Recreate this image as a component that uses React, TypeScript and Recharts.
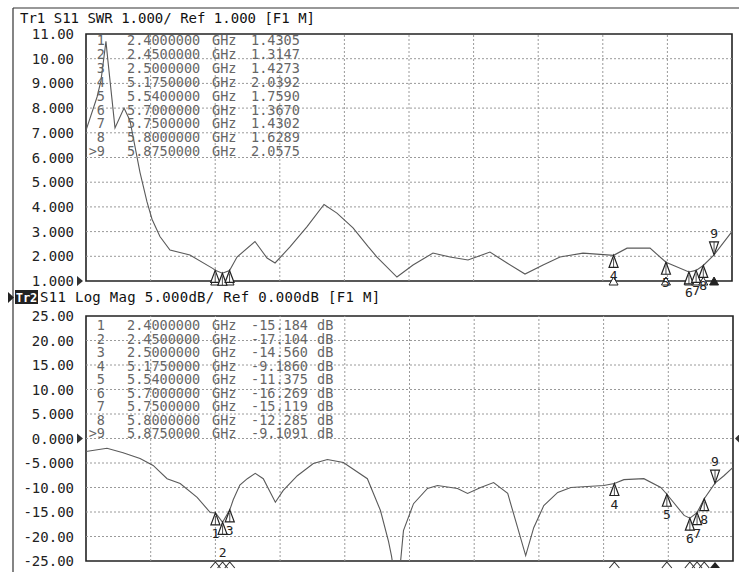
import React from "react";
import {
  ComposedChart,
  Line,
  Scatter,
  XAxis,
  YAxis,
  ReferenceArea,
  ReferenceDot,
  ReferenceLine,
} from "recharts";

const MONO = "'DejaVu Sans Mono', 'Liberation Mono', monospace";

// stimulus axis: 1.5 GHz .. 6 GHz, 10 divisions (labels are not shown on screen)
const freqTicks = [1.5, 1.95, 2.4, 2.85, 3.3, 3.75, 4.2, 4.65, 5.1, 5.55, 6.0];

// Tr1 S11 SWR
const swrTicks = [1, 2, 3, 4, 5, 6, 7, 8, 9, 10, 11];
const swrTickLabels = ["1.000", "2.000", "3.000", "4.000", "5.000", "6.000", "7.000", "8.000", "9.000", "10.00", "11.00"];
const swrFreq = [1.5, 1.577, 1.604, 1.639, 1.653, 1.702, 1.765, 1.806, 1.876, 1.925, 1.96, 2.015, 2.085, 2.224, 2.385, 2.552, 2.677, 2.761, 2.817, 2.921, 3.04, 3.158, 3.248, 3.36, 3.464, 3.527, 3.666, 3.778, 3.917, 4.036, 4.161, 4.314, 4.433, 4.558, 4.684, 4.802, 4.962, 5.269, 5.429, 5.986, 6.0];
const swrVals = [7.1, 8.45, 9.1, 10.7, 9.9, 7.2, 8.0, 7.5, 5.4, 4.2, 3.5, 2.8, 2.25, 2.05, 1.5, 1.97, 2.6, 1.93, 1.73, 2.38, 3.2, 4.1, 3.75, 3.15, 2.4, 1.97, 1.16, 1.65, 2.13, 1.97, 1.85, 2.17, 1.73, 1.28, 1.65, 1.97, 2.13, 2.33, 2.33, 2.9, 3.0];

// Tr2 S11 Log Mag (dB)
const lmTicks = [-25, -20, -15, -10, -5, 0, 5, 10, 15, 20, 25];
const lmTickLabels = ["-25.00", "-20.00", "-15.00", "-10.00", "-5.000", "0.000", "5.000", "10.00", "15.00", "20.00", "25.00"];
const lmFreq = [1.5, 1.646, 1.758, 1.876, 1.967, 2.064, 2.155, 2.273, 2.364, 2.524, 2.57, 2.622, 2.677, 2.733, 2.817, 2.872, 2.97, 3.081, 3.179, 3.29, 3.457, 3.548, 3.604, 3.625, 3.666, 3.708, 3.778, 3.875, 3.945, 4.084, 4.154, 4.245, 4.335, 4.433, 4.502, 4.558, 4.614, 4.684, 4.781, 4.872, 5.101, 5.241, 5.38, 5.498, 5.66, 5.937, 6.0];
const lmVals = [-2.65, -2.0, -2.9, -4.1, -5.5, -8.2, -9.2, -12, -15.1, -12.5, -9.5, -8.2, -7.1, -8.2, -13, -10.6, -7.6, -5.1, -4.3, -4.9, -8.2, -14.7, -21, -24, -32, -18.8, -13.3, -10.2, -9.6, -10.2, -11.2, -10, -9, -11.2, -18.2, -23.9, -18.2, -13.7, -11, -10, -9.6, -8.4, -8.2, -10, -15.7, -7.6, -5.9];

// markers
const markerNums = [1, 2, 3, 4, 5, 6, 7, 8, 9];
const markerFreq = [2.4, 2.45, 2.5, 5.175, 5.54, 5.7, 5.75, 5.8, 5.875];
const markerSwr = [1.4305, 1.3147, 1.4273, 2.0392, 1.759, 1.367, 1.4302, 1.6289, 2.0575];
const markerLogMag = [-15.184, -17.104, -14.56, -9.186, -11.375, -16.269, -15.119, -12.285, -9.1091];
const activeMarker = 9;
// on the SWR trace the labels of 1..3 are hidden under the axis
const swrHiddenLabels = [1, 2, 3];

type Pt = { f: number; v: number; n?: number };

const withMarkers = (freq: number[], vals: number[], mk: number[]): Pt[] =>
  [
    ...freq.map((f, i) => ({ f, v: vals[i] })),
    ...markerFreq.map((f, i) => ({ f, v: mk[i] })),
  ].sort((a, b) => a.f - b.f);

const swrData = withMarkers(swrFreq, swrVals, markerSwr);
const lmData = withMarkers(lmFreq, lmVals, markerLogMag);
const swrMarkers: Pt[] = markerFreq.map((f, i) => ({ f, v: markerSwr[i], n: markerNums[i] }));
const lmMarkers: Pt[] = markerFreq.map((f, i) => ({ f, v: markerLogMag[i], n: markerNums[i] }));

const GRID = { stroke: "#9a9a9a", strokeDasharray: "2 2", strokeWidth: 1 };

const AxisTick = (props: any) => {
  const { y, payload, ticks, labels, refValue } = props;
  const idx = ticks.indexOf(payload.value);
  return (
    <g>
      <text x={74} y={y + 5} textAnchor="end" fontSize={14} fontFamily={MONO} fill="#222">
        {labels[idx]}
      </text>
      {payload.value === refValue && (
        <path d={`M77 ${y - 5} L83 ${y} L77 ${y + 5} Z`} fill="#333" />
      )}
    </g>
  );
};

const makeMarker = (hidden: number[]) => (props: any) => {
  const { cx, cy, payload } = props;
  if (cx == null || cy == null) return <g />;
  if (payload.n === activeMarker) {
    return (
      <g>
        <path d={`M${cx} ${cy} L${cx + 4.5} ${cy - 13} L${cx - 4.5} ${cy - 13} Z`} fill="#fff" stroke="#222" strokeWidth={1.2} />
        <line x1={cx} y1={cy - 13} x2={cx} y2={cy - 3} stroke="#222" strokeWidth={0.8} />
        <text x={cx} y={cy - 17} textAnchor="middle" fontSize={13} fontFamily={MONO} fill="#222">
          {payload.n}
        </text>
      </g>
    );
  }
  const extra = payload.n === 2 ? 10 : 0;
  return (
    <g>
      <path d={`M${cx} ${cy} L${cx + 4.5} ${cy + 12} L${cx - 4.5} ${cy + 12} Z`} fill="#fff" stroke="#222" strokeWidth={1.2} />
      <line x1={cx} y1={cy + 3} x2={cx} y2={cy + 12} stroke="#222" strokeWidth={0.8} />
      {!hidden.includes(payload.n) && (
        <text x={cx} y={cy + 25 + extra} textAnchor="middle" fontSize={13} fontFamily={MONO} fill="#222">
          {payload.n}
        </text>
      )}
    </g>
  );
};

const StimTop = (n: number) => (props: any) => {
  const { cx, cy } = props;
  const active = n === activeMarker;
  return (
    <path
      d={`M${cx} ${cy - 4} L${cx + 4.5} ${cy + 4} L${cx - 4.5} ${cy + 4} Z`}
      fill={active ? "#222" : "#fff"}
      stroke="#222"
      strokeWidth={1}
    />
  );
};

const StimBottom = (n: number) => (props: any) => {
  const { cx, cy } = props;
  if (n === activeMarker) {
    return <path d={`M${cx} ${cy + 1} L${cx + 5} ${cy + 7} L${cx - 5} ${cy + 7} Z`} fill="#222" />;
  }
  return <path d={`M${cx - 5} ${cy + 7} L${cx} ${cy + 1} L${cx + 5} ${cy + 7}`} fill="none" stroke="#333" strokeWidth={1.1} />;
};

const RightRef = (props: any) => {
  const { cx, cy } = props;
  return <path d={`M${cx + 7} ${cy - 5} L${cx + 2} ${cy} L${cx + 7} ${cy + 5} Z`} fill="#333" />;
};

const TraceTable = ({ top, step, values, unit }: { top: number; step: number; values: string[]; unit: string }) => (
  <g fontFamily={MONO} fontSize={13.5} fill="#666">
    {markerNums.map((n, i) => {
      const y = top + i * step;
      return (
        <g key={n}>
          <text x={105} y={y} textAnchor="end">{(n === activeMarker ? ">" : "") + n}</text>
          <text x={127} y={y}>{markerFreq[i].toFixed(7)}</text>
          <text x={212} y={y}>GHz</text>
          <text x={251} y={y}>{values[i]}</text>
          {unit && <text x={317} y={y}>{unit}</text>}
        </g>
      );
    })}
  </g>
);

const gridLines = (yTicks: number[]) => [
  ...freqTicks.slice(1, -1).map((f) => <ReferenceLine key={"x" + f} x={f} {...GRID} />),
  ...yTicks.slice(1, -1).map((v) => <ReferenceLine key={"y" + v} y={v} {...GRID} />),
];

export default function App() {
  return (
    <div style={{ position: "absolute", left: 0, top: 0, width: 739, height: 572, background: "#fff", overflow: "hidden" }}>
      <div style={{ position: "absolute", left: 0, top: 0 }}>
        <ComposedChart width={739} height={300} margin={{ top: 34, right: 7, bottom: 19, left: 0 }}>
          <XAxis type="number" dataKey="f" domain={[1.5, 6]} ticks={freqTicks} hide />
          <YAxis
            type="number"
            dataKey="v"
            domain={[1, 11]}
            ticks={swrTicks}
            width={86}
            axisLine={false}
            tickLine={false}
            tick={(p: any) => <AxisTick {...p} ticks={swrTicks} labels={swrTickLabels} refValue={1} />}
          />
          {gridLines(swrTicks)}
          <ReferenceArea x1={1.5} x2={6} y1={1} y2={11} fill="none" stroke="#222" strokeWidth={1.6} />
          <Line data={swrData} dataKey="v" type="linear" stroke="#5a5a5a" strokeWidth={1.1} dot={false} isAnimationActive={false} />
          {markerFreq.map((f, i) => (
            <ReferenceDot key={i} x={f} y={1} r={4} shape={StimTop(markerNums[i])} />
          ))}
          <Scatter data={swrMarkers} dataKey="v" shape={makeMarker(swrHiddenLabels)} isAnimationActive={false} />
        </ComposedChart>
      </div>
      <div style={{ position: "absolute", left: 0, top: 290 }}>
        <ComposedChart width={739} height={282} margin={{ top: 26, right: 6, bottom: 11, left: 0 }}>
          <XAxis type="number" dataKey="f" domain={[1.5, 6]} ticks={freqTicks} hide />
          <YAxis
            type="number"
            dataKey="v"
            domain={[-25, 25]}
            ticks={lmTicks}
            allowDataOverflow
            width={86}
            axisLine={false}
            tickLine={false}
            tick={(p: any) => <AxisTick {...p} ticks={lmTicks} labels={lmTickLabels} refValue={0} />}
          />
          {gridLines(lmTicks)}
          <ReferenceArea x1={1.5} x2={6} y1={-25} y2={25} fill="none" stroke="#222" strokeWidth={1.6} />
          <Line data={lmData} dataKey="v" type="linear" stroke="#5a5a5a" strokeWidth={1.1} dot={false} isAnimationActive={false} />
          {markerFreq.map((f, i) => (
            <ReferenceDot key={i} x={f} y={-25} r={4} shape={StimBottom(markerNums[i])} />
          ))}
          <ReferenceDot x={6} y={0} r={4} shape={RightRef} />
          <Scatter data={lmMarkers} dataKey="v" shape={makeMarker([])} isAnimationActive={false} />
        </ComposedChart>
      </div>
      <svg width={739} height={572} style={{ position: "absolute", left: 0, top: 0, pointerEvents: "none" }}>
        <line x1={13} y1={8} x2={739} y2={8} stroke="#333" strokeWidth={1.2} />
        <line x1={13} y1={8} x2={13} y2={572} stroke="#333" strokeWidth={1.2} />
        <text x={20} y={23} fontFamily={MONO} fontSize={14} fill="#111">
          Tr1 S11 SWR 1.000/ Ref 1.000 [F1 M]
        </text>
        <TraceTable top={45} step={13.9} values={markerSwr.map((v) => v.toFixed(4))} unit="" />
        <path d="M8 292 L14 297.5 L8 303 Z" fill="#222" />
        <rect x={15} y={290} width={23} height={14} fill="#222" />
        <text x={26.5} y={301.5} textAnchor="middle" fontFamily={MONO} fontSize={12} fontWeight="bold" fill="#fff">
          Tr2
        </text>
        <text x={40} y={302} fontFamily={MONO} fontSize={14} fill="#111" letterSpacing={0.3}>
          S11 Log Mag 5.000dB/ Ref 0.000dB [F1 M]
        </text>
        <TraceTable top={330} step={13.5} values={markerLogMag.map((v) => v.toPrecision(5))} unit="dB" />
      </svg>
    </div>
  );
}
